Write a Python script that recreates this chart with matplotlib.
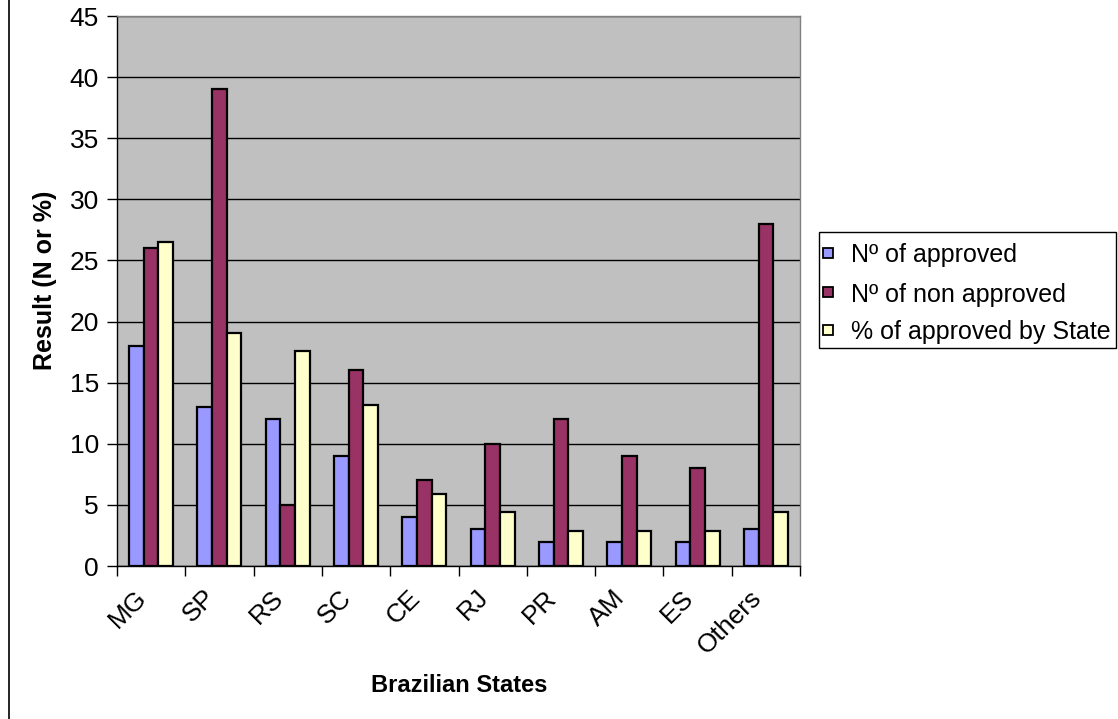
import matplotlib
matplotlib.use("Agg")
import matplotlib.pyplot as plt
import matplotlib.transforms as mtransforms
import numpy as np
from matplotlib.lines import Line2D
from matplotlib.patches import Rectangle

plt.rcParams['font.family'] = ['Liberation Sans', 'DejaVu Sans']

states = ["MG", "SP", "RS", "SC", "CE", "RJ", "PR", "AM", "ES", "Others"]
approved = [18, 13, 12, 9, 4, 3, 2, 2, 2, 3]
non_approved = [26, 39, 5, 16, 7, 10, 12, 9, 8, 28]
pct_approved = [26.5, 19.1, 17.6, 13.2, 5.9, 4.4, 2.9, 2.9, 2.9, 4.4]

series_labels = ["Nº of approved", "Nº of non approved", "% of approved by State"]
colors = ["#9999FF", "#993366", "#FFFFCC"]
yticks = list(range(0, 50, 5))

W, H = 1118, 719
fig = plt.figure(figsize=(W / 100, H / 100), dpi=100)


def fx(px):
    return px / W


def fy(py):
    return 1 - py / H


left, right, top, bottom = 117, 800, 16, 566
ax = fig.add_axes([fx(left), fy(bottom), (right - left) / W, (bottom - top) / H])
ax.set_facecolor("#C0C0C0")

x = np.arange(len(states))
bw = 0.215
for i, (vals, col, lab) in enumerate(zip([approved, non_approved, pct_approved], colors, series_labels)):
    ax.bar(x + (i - 1) * bw, vals, width=bw, color=col, edgecolor="black",
           linewidth=1.6, label=lab, zorder=3)

ax.set_xlim(-0.5, len(states) - 0.5)
ax.set_ylim(0, 45)
ax.set_yticks(yticks)
ax.yaxis.grid(True, color="black", linewidth=1.0, zorder=1)
ax.set_axisbelow(True)

ax.tick_params(axis="y", direction="out", length=7, width=1, labelsize=19, pad=6)
ax.set_xticks(np.arange(-0.5, len(states), 1.0))
ax.set_xticklabels([])
ax.tick_params(axis="x", which="major", direction="out", length=7, width=1)
ax.set_xticks(x, minor=True)
ax.set_xticklabels(states, minor=True, rotation=45, ha="right", va="center",
                   rotation_mode="anchor", fontsize=19)
ax.tick_params(axis="x", which="minor", length=0, pad=20)
shift = mtransforms.ScaledTranslation(-8 / 100, 0, fig.dpi_scale_trans)
for lbl in ax.get_xticklabels(minor=True):
    lbl.set_transform(lbl.get_transform() + shift)

for s in ["left", "bottom"]:
    ax.spines[s].set_color("black")
    ax.spines[s].set_linewidth(1.0)
for s in ["top", "right"]:
    ax.spines[s].set_color("#808080")
    ax.spines[s].set_linewidth(1.0)

# axis titles
fig.text(fx(45), fy(280), "Result (N or %)", rotation=90, ha="center", va="center",
         fontsize=18, fontweight="bold")
fig.text(fx(459), fy(686), "Brazilian States", ha="center", va="center",
         fontsize=17, fontweight="bold")

# legend box drawn in figure pixels
fig.add_artist(Rectangle((fx(819), fy(348)), (1116 - 819) / W, (348 - 232) / H,
                         transform=fig.transFigure, facecolor="white",
                         edgecolor="black", linewidth=1.0))
row_y = [253, 292, 330]
for yy, col, lab in zip(row_y, colors, series_labels):
    fig.add_artist(Rectangle((fx(823), fy(yy + 5)), 10 / W, 10 / H,
                             transform=fig.transFigure, facecolor=col,
                             edgecolor="black", linewidth=1.3))
    fig.text(fx(851), fy(yy), lab, ha="left", va="center_baseline", fontsize=18)

# chart area edge on the left
fig.add_artist(Line2D([fx(9), fx(9)], [0, 1], color="black", linewidth=1.2,
                      transform=fig.transFigure))

fig.savefig("out.png", dpi=100)
